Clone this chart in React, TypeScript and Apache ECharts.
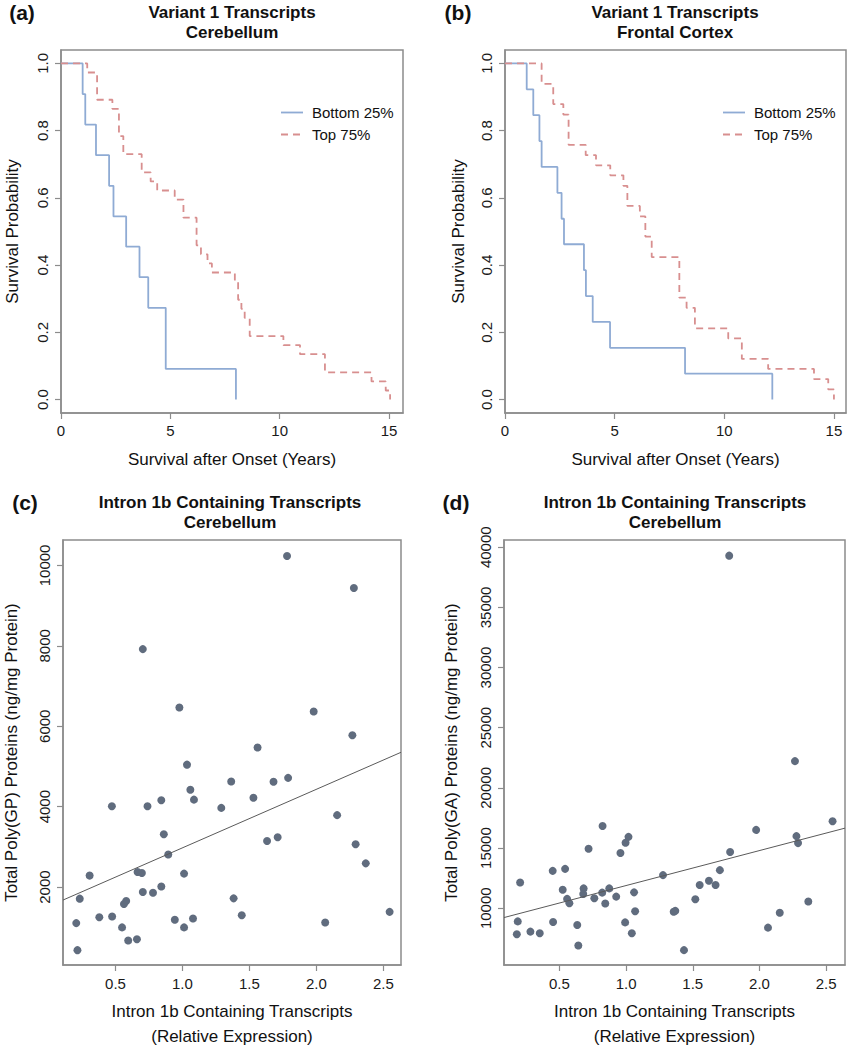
import React, { useEffect, useRef } from "react";
import * as echarts from "echarts";

// ---------- Panel (a): Variant 1 Transcripts, Cerebellum (Kaplan-Meier) ----------
const aBottomTimes = [0, 0.99, 1.11, 1.6, 2.2, 2.4, 2.98, 3.59, 3.99, 4.79, 8.0];
const aBottomSurv = [1, 0.909, 0.818, 0.727, 0.636, 0.545, 0.455, 0.364, 0.273, 0.091, 0];
const aTopTimes = [0, 1.2, 1.65, 2.35, 2.65, 2.85, 3.69, 4.1, 4.4, 5.2, 5.6, 6.2, 6.4, 6.7, 6.9, 7.95, 8.1, 8.25, 8.4, 8.63, 10.17, 10.93, 12.07, 14.2, 14.85, 15.05];
const aTopSurv = [1, 0.973, 0.892, 0.865, 0.784, 0.73, 0.676, 0.649, 0.622, 0.595, 0.541, 0.459, 0.432, 0.405, 0.378, 0.351, 0.297, 0.27, 0.243, 0.189, 0.162, 0.135, 0.081, 0.054, 0.027, 0];

// ---------- Panel (b): Variant 1 Transcripts, Frontal Cortex ----------
const bBottomTimes = [0, 0.99, 1.29, 1.57, 1.67, 2.39, 2.58, 2.69, 3.6, 3.69, 4.0, 4.79, 8.21, 12.19];
const bBottomSurv = [1, 0.923, 0.846, 0.769, 0.692, 0.615, 0.538, 0.462, 0.385, 0.308, 0.231, 0.154, 0.077, 0];
const bTopTimes = [0, 1.67, 2.2, 2.66, 2.9, 3.68, 4.15, 4.8, 5.4, 5.58, 6.15, 6.4, 6.69, 7.95, 8.28, 8.66, 10.18, 10.8, 12.0, 14.09, 14.74, 15.0];
const bTopSurv = [1, 0.939, 0.879, 0.848, 0.758, 0.727, 0.697, 0.667, 0.636, 0.576, 0.545, 0.485, 0.424, 0.303, 0.273, 0.212, 0.182, 0.121, 0.091, 0.061, 0.03, 0];

// ---------- Panel (c): Intron 1b vs Poly(GP) ----------
const cX = [1.781, 2.28, 0.704, 0.977, 1.98, 2.269, 1.561, 1.034, 1.364, 1.68, 1.789, 1.059, 1.086, 0.842, 0.473, 0.739, 1.29, 1.53, 2.155, 0.861, 1.632, 1.711, 2.293, 0.894, 2.369, 0.307, 0.665, 0.697, 1.012, 0.842, 0.233, 0.704, 0.78, 1.382, 0.58, 0.563, 0.207, 0.379, 0.475, 0.549, 0.943, 1.012, 1.079, 1.443, 2.066, 2.547, 0.216, 0.595, 0.66];
const cY = [10234, 9438, 7919, 6465, 6367, 5776, 5472, 5045, 4626, 4618, 4717, 4421, 4175, 4158, 4010, 4010, 3970, 4224, 3789, 3313, 3148, 3239, 3066, 2812, 2590, 2286, 2377, 2352, 2335, 2015, 1712, 1876, 1860, 1720, 1655, 1581, 1104, 1251, 1268, 997, 1187, 997, 1219, 1300, 1121, 1384, 431, 670, 702];
const cFitIntercept = 1520;
const cFitSlope = 1456;

// ---------- Panel (d): Intron 1b vs Poly(GA) ----------
const dX = [1.773, 2.266, 2.548, 1.975, 2.277, 2.289, 1.78, 0.824, 1.018, 0.996, 0.719, 0.958, 0.45, 0.543, 1.277, 1.703, 1.621, 1.552, 1.671, 0.206, 0.525, 0.682, 0.874, 0.821, 1.06, 0.679, 0.558, 0.575, 0.762, 0.844, 0.926, 1.519, 2.366, 1.357, 1.369, 1.068, 2.152, 0.188, 0.453, 0.634, 0.993, 2.064, 0.181, 0.283, 0.353, 1.043, 0.642, 1.434];
const dY = [39299, 22224, 17224, 16507, 15988, 15412, 14670, 16837, 15931, 15436, 14942, 14588, 13105, 13270, 12751, 13163, 12282, 11927, 11927, 12142, 11540, 11647, 11647, 11293, 11318, 11186, 10774, 10412, 10824, 10387, 10964, 10741, 10552, 9700, 9780, 9753, 9621, 8904, 8847, 8600, 8822, 8386, 7834, 8056, 7916, 7916, 6903, 6516];
const dFitIntercept = 8975;
const dFitSlope = 2908;

// ---------- Tick labels / axis ranges ----------
const survXTicks = [0, 5, 10, 15];
const survYTicks = [0, 0.2, 0.4, 0.6, 0.8, 1.0];
const exprTicks = [0.5, 1.0, 1.5, 2.0, 2.5];
const gpTicks = [2000, 4000, 6000, 8000, 10000];
const gaTicks = [10000, 15000, 20000, 25000, 30000, 35000, 40000];
const aXRange = [0, 15.64];
const bXRange = [0, 15.55];
const survYRange = [-0.04, 1.04];
const cXRange = [0.108, 2.632];
const cYRange = [62, 10633];
const dXRange = [0.085, 2.641];
const dYRange = [5280, 40601];

const legendNames = ["Bottom 25%", "Top 75%"];

const FONT = "'Liberation Sans', Arial, Helvetica, sans-serif";
const FRAME = "#8c8c8c";
const BLUE = "#8fabd4";
const RED = "#d88f8f";
const DOT = "#606c7e";

// legend glyphs: a solid line and a dashed line (bounding points keep proportions)
const ICON_SOLID = "path://M0,0 M22,12 M0,5.1 L22,5.1 L22,6.9 L0,6.9 Z";
const ICON_DASHED = "path://M0,0 M22,12 M0,5.1 L7,5.1 L7,6.9 L0,6.9 Z M12,5.1 L19,5.1 L19,6.9 L12,6.9 Z";

const zip = (a: number[], b: number[]) => a.map((v, i) => [v, b[i]]);

function xAxis(gi: number, range: number[], ticks: number[], fmt: (v: number) => string, name: string, margin: number) {
  return {
    type: "value",
    gridIndex: gi,
    min: range[0],
    max: range[1],
    name,
    nameLocation: "middle",
    nameGap: 34,
    nameTextStyle: { fontFamily: FONT, fontSize: 17, color: "#111", lineHeight: 25 },
    axisLine: { show: true, onZero: false, lineStyle: { color: FRAME, width: 1.5 } },
    axisTick: { show: true, length: 6, customValues: ticks, lineStyle: { color: FRAME, width: 1.2 } },
    axisLabel: { customValues: ticks, formatter: fmt, margin, fontFamily: FONT, fontSize: 15, color: "#1a1a1a" },
    splitLine: { show: false },
  };
}

function yAxis(gi: number, range: number[], ticks: number[], fmt: (v: number) => string, name: string, nameGap: number) {
  return {
    type: "value",
    gridIndex: gi,
    min: range[0],
    max: range[1],
    name,
    nameLocation: "middle",
    nameGap,
    nameTextStyle: { fontFamily: FONT, fontSize: 17, color: "#111", lineHeight: 20 },
    axisLine: { show: true, onZero: false, lineStyle: { color: FRAME, width: 1.5 } },
    axisTick: { show: true, length: 6, customValues: ticks, lineStyle: { color: FRAME, width: 1.2 } },
    axisLabel: { customValues: ticks, formatter: fmt, rotate: 90, margin: 11, fontFamily: FONT, fontSize: 15, color: "#1a1a1a" },
    splitLine: { show: false },
  };
}

const f1 = (v: number) => v.toFixed(1);
const f0 = (v: number) => String(Math.round(v));

function kmSeries(name: string, gi: number, t: number[], s: number[], color: string, dashed: boolean) {
  return {
    type: "line",
    name,
    xAxisIndex: gi,
    yAxisIndex: gi,
    step: "end",
    symbol: "none",
    data: zip(t, s),
    lineStyle: { color, width: 1.8, type: dashed ? [7, 5] : "solid" },
    itemStyle: { color },
    silent: true,
  };
}

function fitSeries(gi: number, range: number[], a: number, b: number) {
  return {
    type: "line",
    xAxisIndex: gi,
    yAxisIndex: gi,
    symbol: "none",
    data: [
      [range[0], a + b * range[0]],
      [range[1], a + b * range[1]],
    ],
    lineStyle: { color: "#5a5a5a", width: 1 },
    silent: true,
  };
}

function titleText(x: number, y: number, text: string, size: number) {
  return {
    type: "text",
    x,
    y,
    style: { text, fontFamily: FONT, fontSize: size, fontWeight: "bold", fill: "#111", align: "center", verticalAlign: "middle" },
  };
}

function legend(left: number) {
  return {
    data: [
      { name: legendNames[0], icon: ICON_SOLID },
      { name: legendNames[1], icon: ICON_DASHED },
    ],
    orient: "vertical",
    left,
    top: 100,
    itemWidth: 22,
    itemHeight: 12,
    itemGap: 7,
    selectedMode: false,
    textStyle: { fontFamily: FONT, fontSize: 15, color: "#111", padding: [0, 0, 0, 4] },
  };
}

export default function App() {
  const ref = useRef<HTMLDivElement>(null);
  useEffect(() => {
    if (!ref.current) return;
    const chart = echarts.init(ref.current, undefined, { renderer: "svg" });
    const option = {
      animation: false,
      backgroundColor: "#ffffff",
      textStyle: { fontFamily: FONT },
      grid: [
        { left: 61, top: 50, width: 342, height: 363, show: true, borderColor: FRAME, borderWidth: 1.5, containLabel: false },
        { left: 505, top: 50, width: 341, height: 363, show: true, borderColor: FRAME, borderWidth: 1.5, containLabel: false },
        { left: 60, top: 540, width: 341, height: 429, show: true, borderColor: FRAME, borderWidth: 1.5, containLabel: false },
        { left: 504, top: 540, width: 341, height: 429, show: true, borderColor: FRAME, borderWidth: 1.5, containLabel: false },
      ],
      xAxis: [
        xAxis(0, aXRange, survXTicks, f0, "Survival after Onset (Years)", 10),
        xAxis(1, bXRange, survXTicks, f0, "Survival after Onset (Years)", 10),
        xAxis(2, cXRange, exprTicks, f1, "Intron 1b Containing Transcripts\n(Relative Expression)", 11),
        xAxis(3, dXRange, exprTicks, f1, "Intron 1b Containing Transcripts\n(Relative Expression)", 11),
      ],
      yAxis: [
        yAxis(0, survYRange, survYTicks, f1, "Survival Probability", 39),
        yAxis(1, survYRange, survYTicks, f1, "Survival Probability", 37),
        yAxis(2, cYRange, gpTicks, f0, "Total Poly(GP) Proteins (ng/mg Protein)", 42),
        yAxis(3, dYRange, gaTicks, f0, "Total Poly(GA) Proteins (ng/mg Protein)", 43),
      ],
      legend: [legend(276), legend(718)],
      series: [
        kmSeries(legendNames[0], 0, aBottomTimes, aBottomSurv, BLUE, false),
        kmSeries(legendNames[1], 0, aTopTimes, aTopSurv, RED, true),
        kmSeries(legendNames[0], 1, bBottomTimes, bBottomSurv, BLUE, false),
        kmSeries(legendNames[1], 1, bTopTimes, bTopSurv, RED, true),
        fitSeries(2, cXRange, cFitIntercept, cFitSlope),
        {
          type: "scatter",
          xAxisIndex: 2,
          yAxisIndex: 2,
          symbolSize: 8,
          data: zip(cX, cY),
          itemStyle: { color: DOT, opacity: 1 },
          silent: true,
        },
        fitSeries(3, dXRange, dFitIntercept, dFitSlope),
        {
          type: "scatter",
          xAxisIndex: 3,
          yAxisIndex: 3,
          symbolSize: 8,
          data: zip(dX, dY),
          itemStyle: { color: DOT, opacity: 1 },
          silent: true,
        },
      ],
      graphic: [
        titleText(22, 12, "(a)", 21),
        titleText(232, 12, "Variant 1 Transcripts", 17),
        titleText(232, 32, "Cerebellum", 17),
        titleText(458, 12, "(b)", 21),
        titleText(675, 12, "Variant 1 Transcripts", 17),
        titleText(675, 32, "Frontal Cortex", 17),
        titleText(25, 502, "(c)", 21),
        titleText(230, 502, "Intron 1b Containing Transcripts", 17),
        titleText(230, 522, "Cerebellum", 17),
        titleText(456, 502, "(d)", 21),
        titleText(675, 502, "Intron 1b Containing Transcripts", 17),
        titleText(675, 522, "Cerebellum", 17),
      ],
    };
    chart.setOption(option as any);
    return () => chart.dispose();
  }, []);
  return <div ref={ref} style={{ position: "absolute", left: 0, top: 0, width: 847, height: 1050 }} />;
}
